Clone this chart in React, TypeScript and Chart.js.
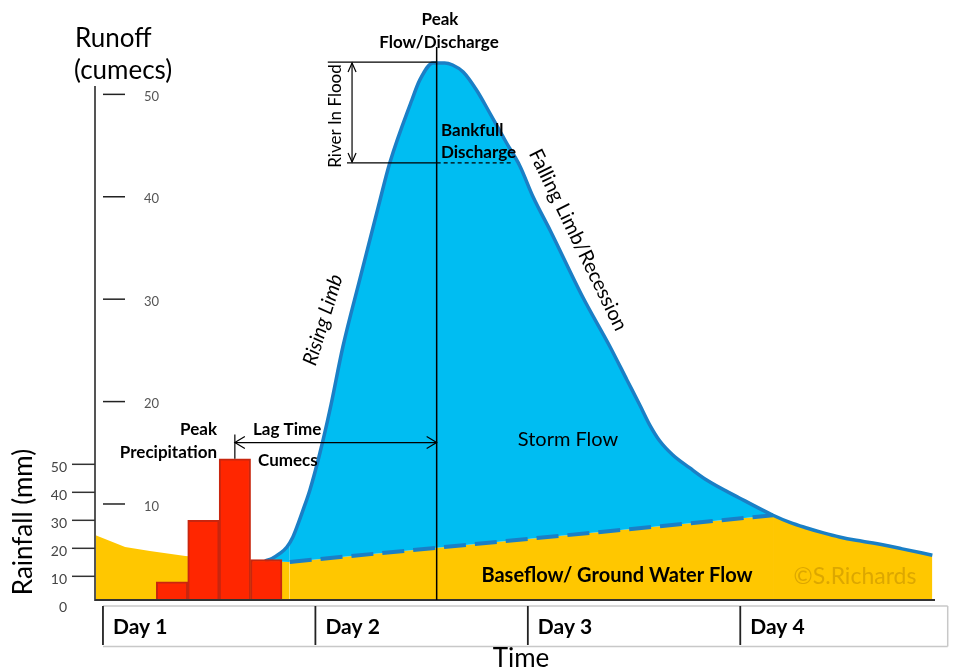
import React, { useEffect, useRef } from "react";
import { Chart, registerables } from "chart.js";

Chart.register(...registerables);

// ---------------- data ----------------
// time axis in hours from the start of Day 1
const DAY_LABELS = ["Day 1", "Day 2", "Day 3", "Day 4"];
const HOURS_PER_DAY = 24;

// rainfall bars (mm)
const RAIN_TIMES = [7.8, 11.35, 14.9, 18.45];
const RAINFALL_MM = [8, 30, 52, 16];

// baseflow / ground water flow (cumecs)
const BASEFLOW_TIMES = [-0.9, 0.8, 2.5, 5.3, 9.3, 14.3, 18.3, 21.1, 75.7, 77.6, 79.5, 81.4, 83.2, 85.1, 87.0, 90.3, 93.7];
const BASEFLOW_CUMECS = [6.97, 6.39, 5.8, 5.41, 4.92, 4.63, 4.43, 4.34, 8.9, 8.2, 7.66, 7.18, 6.78, 6.45, 6.19, 5.62, 5.0];

// total discharge (cumecs)
const DISCHARGE_TIMES = [18.3, 19.09, 19.99, 20.78, 21.46, 22.02, 22.59, 23.38, 24.51, 25.64, 27.1, 29.0, 31.1, 32.4, 34.9, 35.8, 37.3, 38.6, 39.5, 40.7, 42.2, 43.7, 45.6, 47.1, 48.6, 50.5, 54.2, 57.3, 59.2, 60.65, 61.78, 62.91, 64.38, 66.3, 68.2, 71.9, 75.7, 77.6, 79.5, 81.4, 83.2, 85.1, 87.0, 90.3, 93.7];
const DISCHARGE_CUMECS = [4.43, 4.68, 5.17, 5.8, 6.78, 8.0, 9.37, 11.37, 14.98, 19.18, 25.33, 31.88, 39.0, 43.3, 49.45, 51.41, 53.07, 53.07, 52.87, 52.19, 50.43, 48.18, 45.25, 43.01, 39.98, 36.76, 30.21, 25.33, 22.11, 19.67, 17.71, 16.15, 14.79, 13.52, 12.34, 10.59, 8.9, 8.2, 7.66, 7.18, 6.78, 6.45, 6.19, 5.62, 5.0];

// axis ticks
const RUNOFF_TICKS = [10, 20, 30, 40, 50];
const RAIN_TICKS = [0, 10, 20, 30, 40, 50];

// annotation values
const PEAK_TIME = 37.7;
const PEAK_FLOW = 53.15;
const BANKFULL_FLOW = 43.3;
const LAG_FLOW = 16;
const FLOOD_ARROW_TIME = 28.14;
const PEAK_LINE_START = 25.4;
const BANKFULL_SOLID_START = 27.57;
const BANKFULL_DASH_END = 46.33;
const DASH_FROM = 21.0;
const DASH_TO = 75.8;

// ---------------- style ----------------
const FONT = "Lato, 'Open Sans', sans-serif";
const ORANGE = "#FFC700";
const SKY = "#00BDF2";
const BLUE_LINE = "#1A7FC6";
const RED = "#FF2600";
const RED_EDGE = "#C8260F";

function line(ctx: CanvasRenderingContext2D, x1: number, y1: number, x2: number, y2: number, color: string, w: number, dash: number[] = []) {
  ctx.save();
  ctx.beginPath();
  ctx.strokeStyle = color;
  ctx.lineWidth = w;
  ctx.setLineDash(dash);
  ctx.moveTo(x1, y1);
  ctx.lineTo(x2, y2);
  ctx.stroke();
  ctx.restore();
}

function text(ctx: CanvasRenderingContext2D, s: string, x: number, y: number, font: string, align: CanvasTextAlign = "center", color = "#000", rot = 0) {
  ctx.save();
  ctx.translate(x, y);
  if (rot) ctx.rotate((rot * Math.PI) / 180);
  ctx.font = font;
  ctx.fillStyle = color;
  ctx.textAlign = align;
  ctx.textBaseline = "middle";
  ctx.fillText(s, 0, 0);
  ctx.restore();
}

function chevron(ctx: CanvasRenderingContext2D, tx: number, ty: number, dx: number, dy: number, px: number, py: number) {
  ctx.save();
  ctx.beginPath();
  ctx.strokeStyle = "#000";
  ctx.lineWidth = 1.2;
  ctx.moveTo(tx + dx + px, ty + dy + py);
  ctx.lineTo(tx, ty);
  ctx.lineTo(tx + dx - px, ty + dy - py);
  ctx.stroke();
  ctx.restore();
}

const overlay = {
  id: "overlay",
  afterDraw(chart: any) {
    const { ctx, chartArea: a, scales } = chart;
    const X = (v: number) => scales.x.getPixelForValue(v);
    const Y = (v: number) => scales.y.getPixelForValue(v);
    const YR = (v: number) => scales.yR.getPixelForValue(v);

    // axes
    line(ctx, a.left, 86, a.left, a.bottom + 1, "#555", 2);
    line(ctx, a.left, a.bottom, a.right, a.bottom, "#333", 2);

    // runoff ticks (inside)
    RUNOFF_TICKS.forEach((v) => {
      const py = Y(v);
      line(ctx, 103, py, 125, py, "#222", 1.5);
      text(ctx, String(v), 144, py + 2.5, `13px ${FONT}`, "left", "#555");
    });
    // rainfall ticks (outside)
    RAIN_TICKS.forEach((v) => {
      const py = YR(v);
      if (v > 0) line(ctx, 72, py, a.left, py, "#333", 1.5);
      text(ctx, String(v), 67, py + 3, `14px ${FONT}`, "right", "#444");
    });

    // axis titles
    text(ctx, "Runoff", 75, 39, `26px ${FONT}`, "left");
    text(ctx, "(cumecs)", 74, 71, `26px ${FONT}`, "left");
    text(ctx, "Rainfall (mm)", 24, 522, `26px ${FONT}`, "center", "#000", -90);

    // day boxes
    const boxTop = 606, boxBot = 645;
    const x0 = X(0), x4 = X(HOURS_PER_DAY * DAY_LABELS.length) - 5;
    line(ctx, x0, boxTop, x4, boxTop, "#c8c8c8", 1.5);
    line(ctx, x0, boxBot + 1.5, x4, boxBot + 1.5, "#c8c8c8", 1.5);
    line(ctx, x4, boxTop, x4, boxBot + 1.5, "#c8c8c8", 1.5);
    DAY_LABELS.forEach((d, i) => {
      const px = X(i * HOURS_PER_DAY);
      line(ctx, px, boxTop, px, boxBot, "#222", 1.8);
      text(ctx, d, px + 10, 627, `bold 21px ${FONT}`, "left");
    });
    text(ctx, "Time", 521, 659, `26px ${FONT}`, "center");

    // peak line & river in flood
    const pkx = X(PEAK_TIME);
    const pky = Y(PEAK_FLOW);
    const bky = Y(BANKFULL_FLOW);
    line(ctx, pkx, 47, pkx, a.bottom, "#000", 1.5);
    line(ctx, X(PEAK_LINE_START), pky, pkx, pky, "#000", 1.2);
    line(ctx, X(BANKFULL_SOLID_START), bky, pkx, bky, "#000", 1.2);
    line(ctx, pkx, bky, X(BANKFULL_DASH_END), bky, "#000", 1.2, [4, 3]);
    const fax = X(FLOOD_ARROW_TIME);
    line(ctx, fax, pky + 1, fax, bky - 1, "#000", 1.2);
    chevron(ctx, fax, pky + 1, 0, 9, 4, 0);
    chevron(ctx, fax, bky - 1, 0, -9, 4, 0);

    text(ctx, "Peak", 440, 20, `bold 17px ${FONT}`);
    text(ctx, "Flow/Discharge", 439, 43, `bold 17px ${FONT}`);
    text(ctx, "River In Flood", 336, 116, `17px ${FONT}`, "center", "#000", -90);
    text(ctx, "Bankfull", 441, 131, `bold 17px ${FONT}`, "left");
    text(ctx, "Discharge", 441, 153, `bold 17px ${FONT}`, "left");

    // limbs
    text(ctx, "Rising Limb", 323, 320, `italic 20px ${FONT}`, "center", "#000", -73);
    text(ctx, "Falling Limb/Recession", 578, 240, `20px ${FONT}`, "center", "#000", 64);

    // area labels
    text(ctx, "Storm Flow", 568, 440, `20px ${FONT}`);
    text(ctx, "Baseflow/ Ground Water Flow", 617, 576, `bold 20px ${FONT}`);
    text(ctx, "\u00A9S.Richards", 855, 577, `23px ${FONT}`, "center", "rgba(185,135,0,0.5)");

    // lag time
    const peakRain = Math.max(...RAINFALL_MM);
    const lx = X(RAIN_TIMES[RAINFALL_MM.indexOf(peakRain)]);
    const ly = Y(LAG_FLOW);
    line(ctx, lx, ly, pkx, ly, "#000", 1.2);
    line(ctx, lx, ly - 8, lx, YR(peakRain), "#000", 1.2);
    chevron(ctx, lx, ly, 10, 0, 0, 6);
    chevron(ctx, pkx, ly, -10, 0, 0, 6);

    text(ctx, "Peak", 217, 430, `bold 17px ${FONT}`, "right");
    text(ctx, "Precipitation", 217, 453, `bold 17px ${FONT}`, "right");
    text(ctx, "Lag Time", 253, 430, `bold 17px ${FONT}`, "left");
    text(ctx, "Cumecs", 258, 461, `bold 17px ${FONT}`, "left");
  },
};

export default function App() {
  const ref = useRef<HTMLCanvasElement | null>(null);
  useEffect(() => {
    if (!ref.current) return;
    const inDash = (c: any) => c.p0.parsed.x >= DASH_FROM && c.p1.parsed.x <= DASH_TO;
    const chart = new Chart(ref.current, {
      type: "line",
      data: {
        datasets: [
          {
            type: "bar",
            label: "Rainfall",
            data: RAIN_TIMES.map((t, i) => ({ x: t, y: RAINFALL_MM[i] })),
            yAxisID: "yR",
            backgroundColor: RED,
            borderColor: RED_EDGE,
            borderWidth: 2,
            barPercentage: 1,
            categoryPercentage: 1,
            order: 0,
          } as any,
          {
            type: "line",
            label: "Baseflow",
            data: BASEFLOW_TIMES.map((t, i) => ({ x: t, y: BASEFLOW_CUMECS[i] })),
            yAxisID: "y",
            borderColor: BLUE_LINE,
            borderWidth: 4,
            pointRadius: 0,
            tension: 0,
            fill: "start",
            backgroundColor: ORANGE,
            order: 2,
            segment: {
              borderColor: (c: any) => (inDash(c) ? BLUE_LINE : "rgba(0,0,0,0)"),
              borderDash: (c: any) => (inDash(c) ? [22, 9] : undefined),
            },
          },
          {
            type: "line",
            label: "Discharge",
            data: DISCHARGE_TIMES.map((t, i) => ({ x: t, y: DISCHARGE_CUMECS[i] })),
            yAxisID: "y",
            borderColor: BLUE_LINE,
            borderWidth: 3.5,
            pointRadius: 0,
            cubicInterpolationMode: "monotone",
            fill: 1,
            backgroundColor: SKY,
            order: 1,
          },
        ],
      },
      options: {
        responsive: false,
        animation: false,
        events: [],
        layout: { padding: { left: 95, right: 20, top: 45, bottom: 71 } },
        plugins: {
          legend: { display: false },
          tooltip: { enabled: false },
          filler: { drawTime: "beforeDatasetsDraw" },
        } as any,
        scales: {
          x: { type: "linear", min: -0.9, max: 94, display: false, offset: false, ticks: { stepSize: 24, includeBounds: false } as any },
          y: { type: "linear", min: 0.625, max: 54.82, display: false },
          yR: { type: "linear", min: 1.54, max: 199.75, display: false },
        },
      },
      plugins: [overlay],
    });
    return () => chart.destroy();
  }, []);
  return (
    <div style={{ position: "fixed", left: 0, top: 0, width: 955, height: 671, background: "#fff" }}>
      <canvas ref={ref} width={955} height={671} style={{ display: "block" }} />
    </div>
  );
}
